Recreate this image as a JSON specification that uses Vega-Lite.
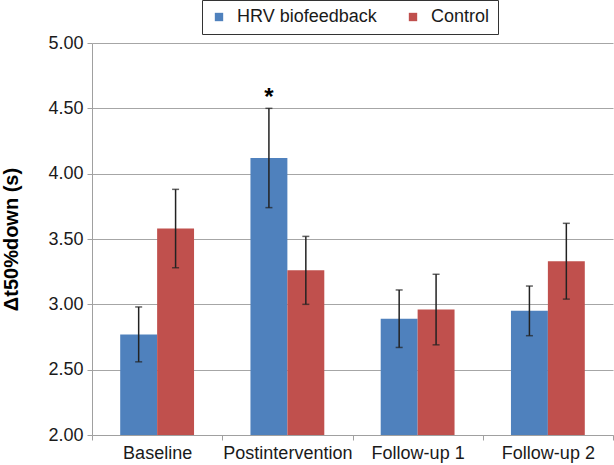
{
  "$schema": "https://vega.github.io/schema/vega-lite/v6.json",
  "autosize": "none",
  "width": 521,
  "height": 392,
  "padding": {"left": 92, "top": 43, "right": 1, "bottom": 30},
  "background": "white",
  "config": {
    "view": {"stroke": null},
    "font": "Liberation Sans",
    "axis": {"labelFont": "Liberation Sans", "titleFont": "Liberation Sans"}
  },
  "data": {
    "values": [
      {"phase": "Baseline", "group": "HRV biofeedback", "mean": 2.77, "lo": 2.56, "hi": 2.98, "sig": ""},
      {"phase": "Baseline", "group": "Control", "mean": 3.58, "lo": 3.28, "hi": 3.88, "sig": ""},
      {"phase": "Postintervention", "group": "HRV biofeedback", "mean": 4.12, "lo": 3.74, "hi": 4.50, "sig": "*"},
      {"phase": "Postintervention", "group": "Control", "mean": 3.26, "lo": 3.00, "hi": 3.52, "sig": ""},
      {"phase": "Follow-up 1", "group": "HRV biofeedback", "mean": 2.89, "lo": 2.67, "hi": 3.11, "sig": ""},
      {"phase": "Follow-up 1", "group": "Control", "mean": 2.96, "lo": 2.69, "hi": 3.23, "sig": ""},
      {"phase": "Follow-up 2", "group": "HRV biofeedback", "mean": 2.95, "lo": 2.76, "hi": 3.14, "sig": ""},
      {"phase": "Follow-up 2", "group": "Control", "mean": 3.33, "lo": 3.04, "hi": 3.62, "sig": ""}
    ]
  },
  "encoding": {
    "x": {
      "field": "phase", "type": "nominal",
      "sort": ["Baseline", "Postintervention", "Follow-up 1", "Follow-up 2"],
      "scale": {"paddingInner": 0, "paddingOuter": 0},
      "axis": {
        "title": null, "labelAngle": 0, "labelFontSize": 18, "labelColor": "#1a1a1a",
        "tickBand": "extent", "tickSize": 5, "tickColor": "#a0a0a0", "domainColor": "#a0a0a0",
        "labelPadding": 4, "grid": false
      }
    },
    "xOffset": {
      "field": "group", "type": "nominal",
      "sort": ["HRV biofeedback", "Control"],
      "scale": {"paddingInner": 0, "paddingOuter": 0.764}
    }
  },
  "layer": [
    {
      "mark": {"type": "bar", "clip": true},
      "encoding": {
        "y": {
          "field": "mean", "type": "quantitative",
          "scale": {"domain": [2, 5], "zero": false, "nice": false},
          "axis": {
            "title": "Δt50%down (s)", "titleFontSize": 20, "titleFontWeight": "bold", "titleColor": "#000000",
            "titlePadding": 26,
            "values": [2, 2.5, 3, 3.5, 4, 4.5, 5], "format": ".2f",
            "labelFontSize": 18, "labelColor": "#1a1a1a", "labelPadding": 4,
            "tickSize": 5, "tickColor": "#a0a0a0", "domainColor": "#a0a0a0",
            "grid": true, "gridColor": "#a6a6a6", "gridWidth": 1
          }
        },
        "color": {
          "field": "group", "type": "nominal",
          "sort": ["HRV biofeedback", "Control"],
          "scale": {"domain": ["HRV biofeedback", "Control"], "range": ["#4f81bd", "#c0504d"]},
          "legend": {
            "title": null, "orient": "none", "direction": "horizontal",
            "legendX": 110, "legendY": -43,
            "strokeColor": "#333333", "padding": 8,
            "symbolType": "square", "symbolSize": 70, "symbolStrokeWidth": 0,
            "labelFontSize": 18, "labelColor": "#1a1a1a", "labelOffset": 9,
            "columnPadding": 27, "fillColor": "white"
          }
        }
      }
    },
    {
      "mark": {"type": "rule", "color": "#222222", "strokeWidth": 1.5},
      "encoding": {
        "y": {"field": "lo", "type": "quantitative"},
        "y2": {"field": "hi"}
      }
    },
    {
      "mark": {"type": "tick", "color": "#222222", "thickness": 1.5, "size": 7},
      "encoding": {"y": {"field": "lo", "type": "quantitative"}}
    },
    {
      "mark": {"type": "tick", "color": "#222222", "thickness": 1.5, "size": 7},
      "encoding": {"y": {"field": "hi", "type": "quantitative"}}
    },
    {
      "mark": {"type": "text", "fontSize": 24, "fontWeight": "bold", "baseline": "alphabetic", "dy": -3, "color": "#000000"},
      "encoding": {
        "y": {"field": "hi", "type": "quantitative"},
        "text": {"field": "sig"}
      }
    }
  ]
}
